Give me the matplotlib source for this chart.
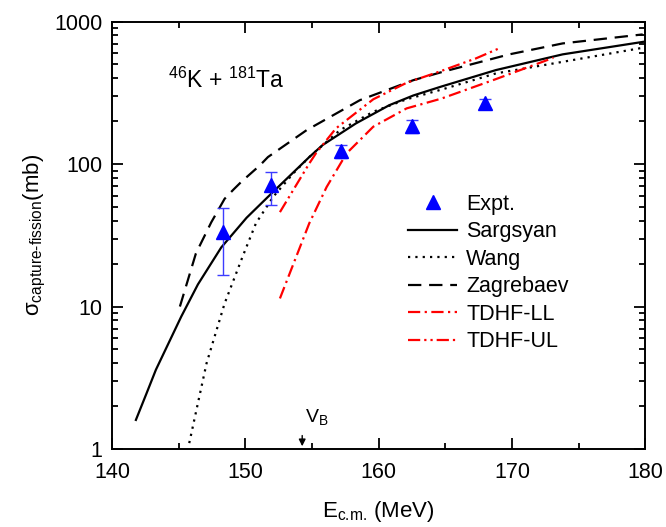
import numpy as np
import matplotlib
matplotlib.use("Agg")
import matplotlib.pyplot as plt
from matplotlib.ticker import MultipleLocator, LogLocator, FixedLocator, NullFormatter

plt.rcParams['font.family'] = ['Liberation Sans', 'DejaVu Sans']
plt.rcParams['mathtext.fontset'] = 'custom'
plt.rcParams['mathtext.rm'] = 'Liberation Sans'
plt.rcParams['mathtext.it'] = 'Liberation Sans:italic'

# measured capture-fission cross sections
E_exp = [148.3, 151.9, 157.2, 162.5, 168.0]
sig_exp = [33.5, 71, 123, 185, 267]
sig_lo = [16.7, 52, 110, 164, 248]
sig_hi = [49.4, 88, 136, 204, 286]

# model curves
E_sarg = [141.8, 142.6, 143.3, 145.2, 146.45, 148.2, 150.1, 152.1, 154.8, 155.8, 158.3, 160.8, 162.6, 164.7, 168.8, 173.8, 180.0]
sig_sarg = [1.6, 2.46, 3.6, 8.5, 14.3, 26, 42, 64, 112, 136, 193, 259, 303, 350, 457, 589, 725]

E_wang = [145.8, 147.1, 148.45, 149.8, 150.8, 152.1, 153.6, 154.8, 157.1, 159.6, 162.1, 164.8, 168.8, 173.8, 179.8]
sig_wang = [1.1, 4.0, 10.5, 22.4, 38.4, 59, 86, 112, 173, 233, 285, 335, 433, 522, 655]

E_zag = [145.1, 146.3, 147.45, 148.45, 149.1, 149.7, 151.1, 151.7, 154.6, 158.6, 162.6, 164.8, 169.8, 173.8, 179.8]
sig_zag = [10, 23.6, 39, 57, 66, 75, 98, 112, 173, 281, 388, 444, 589, 703, 813]

E_ll = [152.6, 154.8, 156.1, 157.6, 159.6, 162.1, 164.7, 168.8, 173.1]
sig_ll = [11.4, 38.4, 69, 119, 183, 246, 288, 395, 557]

E_ul = [152.6, 154.8, 155.3, 156.8, 159.6, 162.1, 164.6, 167.3, 169.2]
sig_ul = [46, 101, 119, 178, 285, 372, 447, 552, 659]

V_B = 154.27

fig = plt.figure(figsize=(6.66, 5.27), dpi=100)
ax = fig.add_axes([0.168, 0.148, 0.801, 0.811])

ax.errorbar(E_exp, sig_exp,
            yerr=[np.array(sig_exp) - np.array(sig_lo), np.array(sig_hi) - np.array(sig_exp)],
            fmt='none', ecolor='#3c3cff', elinewidth=1.0, capsize=4, capthick=1.0, zorder=4)
ax.plot(E_exp, sig_exp, '^', color='blue', ms=9.5, label='Expt.', zorder=5)

ax.plot(E_sarg, sig_sarg, color='black', lw=1.6, label='Sargsyan')
ax.plot(E_wang, sig_wang, color='black', lw=1.6, ls=(0, (1, 2.3)), label='Wang')
ax.plot(E_zag, sig_zag, color='black', lw=1.6, ls=(0, (6, 3.5)), label='Zagrebaev')
ax.plot(E_ll, sig_ll, color='red', lw=1.6, ls=(0, (5.5, 2, 1, 2)), label='TDHF-LL')
ax.plot(E_ul, sig_ul, color='red', lw=1.6, ls=(0, (5.5, 1.8, 1, 1.8, 1, 1.8)), label='TDHF-UL')

ax.set_yscale('log')
ax.set_xlim(140, 180)
ax.set_ylim(1, 1000)

ax.xaxis.set_major_locator(MultipleLocator(10))
ax.xaxis.set_minor_locator(MultipleLocator(5))
ax.yaxis.set_major_locator(FixedLocator([1, 10, 100, 1000]))
ax.yaxis.set_minor_locator(LogLocator(base=10, subs=np.arange(2, 10)))
ax.yaxis.set_minor_formatter(NullFormatter())
ax.set_yticklabels(['1', '10', '100', '1000'])

ax.tick_params(which='both', direction='in', top=True, right=True, width=1.3, labelsize=15.5)
ax.tick_params(which='major', length=8, pad=7)
ax.tick_params(axis='x', which='major', pad=9)
ax.tick_params(which='minor', length=4.5)
for sp in ax.spines.values():
    sp.set_linewidth(1.4)

ax.set_xlabel('E$_{\\text{c.m.}}$ (MeV)', fontsize=16, labelpad=12)
ax.set_ylabel('σ$_{\\text{capture-fission}}$(mb)', fontsize=16, labelpad=4)

ax.text(144.2, 341, '$^{46}$K + $^{181}$Ta', fontsize=16.5, ha='left', va='baseline')

# Coulomb barrier marker
ax.annotate('', xy=(V_B, 1.0), xytext=(V_B, 1.3),
            arrowprops=dict(arrowstyle='-|>', color='black', lw=1.0, mutation_scale=10))
ax.text(V_B + 0.2, 1.55, 'V$_{\\text{B}}$', fontsize=14, ha='left', va='baseline')

ax.legend(loc='upper left', bbox_to_anchor=(0.555, 0.597), frameon=False, fontsize=15.5,
          handlelength=2.3, handletextpad=0.4, labelspacing=0.3, borderpad=0, borderaxespad=0,
          numpoints=1)

fig.savefig('out.png', dpi=100)
